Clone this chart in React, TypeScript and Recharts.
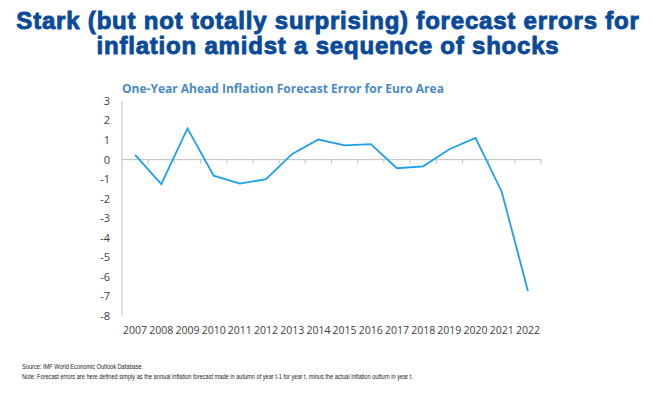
import React from 'react';
import { LineChart, Line, XAxis, YAxis, ReferenceLine } from 'recharts';

const years = ['2007', '2008', '2009', '2010', '2011', '2012', '2013', '2014', '2015', '2016', '2017', '2018', '2019', '2020', '2021', '2022'];
const forecastError = [0.24, -1.25, 1.6, -0.82, -1.23, -1.0, 0.29, 1.03, 0.73, 0.79, -0.44, -0.34, 0.53, 1.11, -1.64, -6.72];
const yTicks = [-8, -7, -6, -5, -4, -3, -2, -1, 0, 1, 2, 3];

const data = years.map((year, i) => ({ year, value: forecastError[i] }));

const AXIS_GREY = '#bfbfbf';

// zero line with Excel-style tick marks between categories
const ZeroAxis = (props: any) => {
  const { x1, x2, y1 } = props;
  const n = years.length;
  const step = (x2 - x1) / n;
  const ticks = [];
  for (let i = 1; i <= n; i++) {
    const x = x1 + step * i;
    ticks.push(<line key={i} x1={x} x2={x} y1={y1} y2={y1 + 4} stroke={AXIS_GREY} strokeWidth={1} />);
  }
  return (
    <g>
      <line x1={x1} x2={x2} y1={y1} y2={y1} stroke={AXIS_GREY} strokeWidth={1} />
      {ticks}
    </g>
  );
};

const App: React.FC = () => {
  return (
    <div style={{ position: 'absolute', left: 0, top: 0, width: 652, height: 393, background: '#fff', overflow: 'hidden' }}>
      <div
        style={{
          position: 'absolute',
          left: 2,
          top: 8,
          width: 652,
          textAlign: 'center',
          fontFamily: '"Liberation Sans", Arial, sans-serif',
          fontWeight: 700,
          fontSize: 24,
          lineHeight: '25px',
          letterSpacing: 0.8,
          color: '#0a4a9a',
          WebkitTextStroke: '0.9px #0a4a9a',
        }}
      >
        Stark (but not totally surprising) forecast errors for
        <br />
        inflation amidst a sequence of shocks
      </div>
      <div
        style={{
          position: 'absolute',
          left: 122,
          top: 80,
          fontFamily: '"Open Sans", sans-serif',
          fontWeight: 700,
          fontSize: 12,
          color: '#4a8ac4',
        }}
      >
        One-Year Ahead Inflation Forecast Error for Euro Area
      </div>
      <LineChart
        width={652}
        height={393}
        data={data}
        margin={{ top: 101, right: 111, bottom: 47, left: 82 }}
        style={{ position: 'absolute', left: 0, top: 0 }}
      >
        <XAxis
          dataKey="year"
          scale="band"
          height={30}
          axisLine={false}
          tickLine={false}
          interval={0}
          tickMargin={5}
          tick={{ fontFamily: '"Open Sans", sans-serif', fontSize: 10.5, fill: '#404040' }}
        />
        <YAxis
          width={40}
          domain={[-8, 3]}
          ticks={yTicks}
          interval={0}
          axisLine={{ stroke: AXIS_GREY }}
          tickLine={false}
          tickMargin={6}
          tick={{ fontFamily: '"Open Sans", sans-serif', fontSize: 11, fill: '#404040' }}
        />
        <ReferenceLine y={0} shape={ZeroAxis} />
        <Line
          type="linear"
          dataKey="value"
          stroke="#1ea0e6"
          strokeWidth={1.8}
          dot={false}
          isAnimationActive={false}
        />
      </LineChart>
      <div
        style={{
          position: 'absolute',
          left: 22,
          top: 362,
          fontFamily: '"Liberation Sans", Arial, sans-serif',
          fontSize: 7.5,
          lineHeight: '10px',
          color: '#222',
          transform: 'scaleX(0.75)',
          transformOrigin: 'left top',
          whiteSpace: 'nowrap',
        }}
      >
        Source: IMF World Economic Outlook Database.
        <br />
        Note: Forecast errors are here defined simply as the annual inflation forecast made in autumn of year t-1 for year t, minus the actual inflation outturn in year t.
      </div>
    </div>
  );
};

export default App;
